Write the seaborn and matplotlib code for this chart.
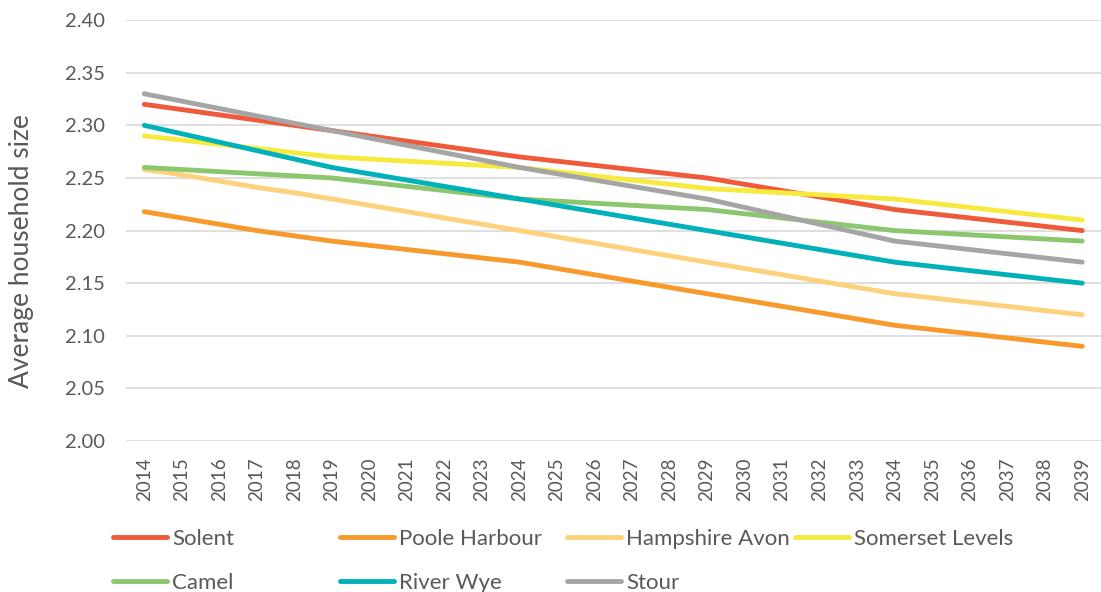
import pandas as pd
import matplotlib
matplotlib.use('Agg')
import matplotlib.pyplot as plt
import seaborn as sns

# Data
years = list(range(2014, 2040))

solent = [2.320, 2.315, 2.310, 2.305, 2.300, 2.295, 2.290, 2.285, 2.280, 2.275, 2.270,
          2.266, 2.262, 2.258, 2.254, 2.250, 2.244, 2.238, 2.232, 2.226, 2.220,
          2.216, 2.212, 2.208, 2.204, 2.200]
poole_harbour = [2.218, 2.212, 2.206, 2.200, 2.195, 2.190, 2.186, 2.182, 2.178, 2.174, 2.170,
                 2.164, 2.158, 2.152, 2.146, 2.140, 2.134, 2.128, 2.122, 2.116, 2.110,
                 2.106, 2.102, 2.098, 2.094, 2.090]
hampshire_avon = [2.258, 2.253, 2.247, 2.241, 2.236, 2.230, 2.224, 2.218, 2.212, 2.206, 2.200,
                  2.194, 2.188, 2.182, 2.176, 2.170, 2.164, 2.158, 2.152, 2.146, 2.140,
                  2.136, 2.132, 2.128, 2.124, 2.120]
somerset_levels = [2.290, 2.286, 2.282, 2.278, 2.274, 2.270, 2.268, 2.266, 2.264, 2.262, 2.260,
                   2.256, 2.252, 2.248, 2.244, 2.240, 2.238, 2.236, 2.234, 2.232, 2.230,
                   2.226, 2.222, 2.218, 2.214, 2.210]
camel = [2.260, 2.258, 2.256, 2.254, 2.252, 2.250, 2.246, 2.242, 2.238, 2.234, 2.230,
         2.228, 2.226, 2.224, 2.222, 2.220, 2.216, 2.212, 2.208, 2.204, 2.200,
         2.198, 2.196, 2.194, 2.192, 2.190]
river_wye = [2.300, 2.292, 2.284, 2.276, 2.268, 2.260, 2.254, 2.248, 2.242, 2.236, 2.230,
             2.224, 2.218, 2.212, 2.206, 2.200, 2.194, 2.188, 2.182, 2.176, 2.170,
             2.166, 2.162, 2.158, 2.154, 2.150]
stour = [2.330, 2.323, 2.316, 2.309, 2.302, 2.295, 2.288, 2.281, 2.274, 2.267, 2.260,
         2.254, 2.248, 2.242, 2.236, 2.230, 2.222, 2.214, 2.206, 2.198, 2.190,
         2.186, 2.182, 2.178, 2.174, 2.170]

series_names = ['Solent', 'Poole Harbour', 'Hampshire Avon', 'Somerset Levels',
                'Camel', 'River Wye', 'Stour']
series_values = [solent, poole_harbour, hampshire_avon, somerset_levels,
                 camel, river_wye, stour]
colors = ['#EF5A3A', '#F7992B', '#FDD27C', '#F7EA3E', '#8CC76F', '#00B1BA', '#A5A5A5']
y_ticks = [2.00, 2.05, 2.10, 2.15, 2.20, 2.25, 2.30, 2.35, 2.40]

# Long-form table for seaborn
rows = []
for name, vals in zip(series_names, series_values):
    for i, v in enumerate(vals):
        rows.append({'idx': i, 'year': years[i], 'region': name, 'size': v})
df = pd.DataFrame(rows)

sns.set_style('white')
plt.rcParams['font.family'] = ['Lato', 'DejaVu Sans']
text_color = '#595959'

fig = plt.figure(figsize=(11.01, 5.92), dpi=100)
ax = fig.add_axes([0.114, 0.255, 0.886, 0.711])

sns.lineplot(data=df, x='idx', y='size', hue='region', hue_order=series_names,
             palette=dict(zip(series_names, colors)), linewidth=3.5,
             solid_capstyle='round', ax=ax, legend=False)

ax.set_xlim(-0.5, 25.5)
ax.set_ylim(2.00, 2.40)
ax.set_yticks(y_ticks)
ax.set_yticklabels([f'{t:.2f}' for t in y_ticks], fontsize=14.5, color=text_color)
ax.set_xticks(range(len(years)))
ax.set_xticklabels([str(y) for y in years], rotation=90, fontsize=13.5, color=text_color)
ax.tick_params(axis='y', length=0, pad=15)
ax.tick_params(axis='x', length=0, pad=12)
ax.yaxis.grid(True, color='#D9D9D9', linewidth=1.2)
ax.set_axisbelow(True)
for s in ax.spines.values():
    s.set_visible(False)
ax.set_xlabel('')
ax.set_ylabel('Average household size', fontsize=19, color=text_color)
ax.yaxis.set_label_coords(-0.094, 0.451)

# Legend: four columns placed like the reference
handles = {name: plt.Line2D([], [], color=c, linewidth=3.5, solid_capstyle='round')
           for name, c in zip(series_names, colors)}
columns = [['Solent', 'Camel'], ['Poole Harbour', 'River Wye'],
           ['Hampshire Avon', 'Stour'], ['Somerset Levels']]
col_x = [113, 340, 567, 795]
for names, x in zip(columns, col_x):
    leg = fig.legend([handles[n] for n in names], names, loc='upper left',
                     bbox_to_anchor=(x / 1101, 1 - 529 / 592), frameon=False,
                     fontsize=16, handlelength=2.45, handletextpad=0.22,
                     labelspacing=1.07, borderpad=0, borderaxespad=0)
    for t in leg.get_texts():
        t.set_color(text_color)

fig.savefig('out.png', dpi=100)
